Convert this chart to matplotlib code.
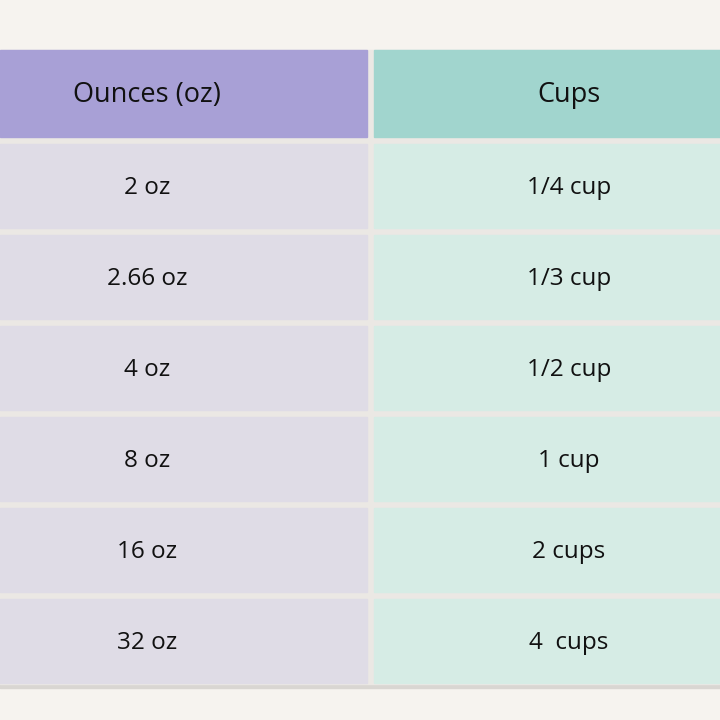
import matplotlib
matplotlib.use("Agg")
import matplotlib.pyplot as plt
from matplotlib.patches import Rectangle

headers = ["Ounces (oz)", "Cups"]
ounces = ["2 oz", "2.66 oz", "4 oz", "8 oz", "16 oz", "32 oz"]
cups = ["1/4 cup", "1/3 cup", "1/2 cup", "1 cup", "2 cups", "4  cups"]

fig = plt.figure(figsize=(7.2, 7.2), dpi=100)
fig.patch.set_facecolor("#f6f3ef")
ax = fig.add_axes([0, 0, 1, 1])
ax.set_xlim(0, 720); ax.set_ylim(720, 0); ax.axis("off")

cols = [(0, 367), (374, 720)]
centers = [147, 569]
head_col = ["#a8a0d6", "#a1d5ce"]
body_col = ["#dfdce6", "#d6ece5"]
font = "Open Sans"

ax.add_patch(Rectangle((0, 683), 720, 5, color="#d9d6d2", zorder=0))
ax.add_patch(Rectangle((0, 50), 720, 634, color="#ebe8e4", zorder=0))

for j, (x0, x1) in enumerate(cols):
    ax.add_patch(Rectangle((x0, 50), x1 - x0, 87, color=head_col[j], zorder=1))
    ax.text(centers[j], 95, headers[j], ha="center", va="center",
            fontsize=19.5, family=font, color="#111111", zorder=2)

for i, (a, b) in enumerate(zip(ounces, cups)):
    y0 = 144 + i * 91
    for j, ((x0, x1), t) in enumerate(zip(cols, (a, b))):
        ax.add_patch(Rectangle((x0, y0), x1 - x0, 84, color=body_col[j], zorder=1))
        ax.text(centers[j], y0 + 44, t, ha="center", va="center",
                fontsize=17.5, family=font, color="#111111", zorder=2)

fig.savefig("out.png", dpi=100, facecolor=fig.get_facecolor())
